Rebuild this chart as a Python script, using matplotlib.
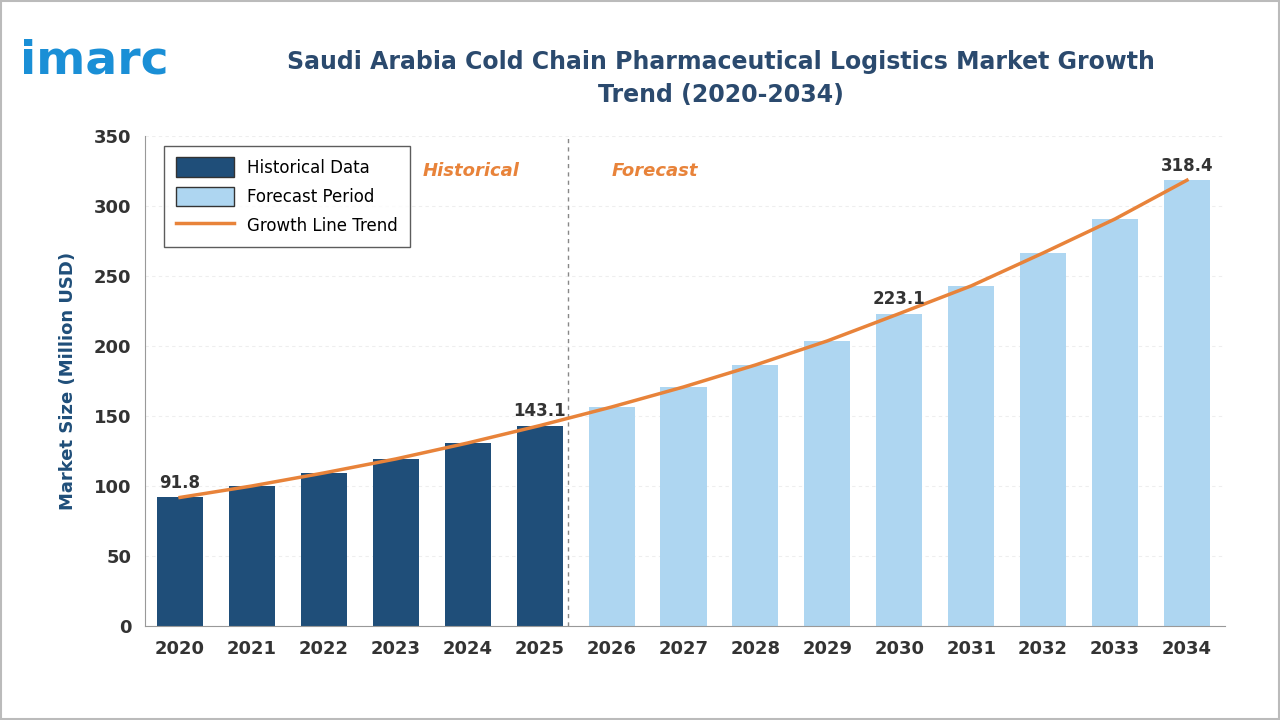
import matplotlib
matplotlib.use("Agg")
import matplotlib.pyplot as plt
from matplotlib.patches import Patch, Rectangle
from matplotlib.lines import Line2D

years = ["2020","2021","2022","2023","2024","2025","2026","2027","2028","2029","2030","2031","2032","2033","2034"]
values = [91.8,100.0,109.3,119.3,130.7,143.1,156.4,170.7,186.4,203.6,223.1,242.9,266.4,290.7,318.4]
n_hist = 6
labeled = {0:"91.8",5:"143.1",10:"223.1",14:"318.4"}

dark = "#1f4e79"; light = "#aed6f1"; orange = "#e8833a"; txt = "#333333"

fig = plt.figure(figsize=(12.8,7.2), dpi=100)
fig.patches.append(Rectangle((0.001,0.001),0.998,0.998,transform=fig.transFigure,fill=False,edgecolor="#bbbbbb",lw=1.5))
ax = fig.add_axes([0.1133,0.1306,0.8438,0.6806])
x = list(range(len(years)))
colors = [dark if i < n_hist else light for i in x]
ax.bar(x, values, width=0.64, color=colors, zorder=2)
ax.plot(x, values, color=orange, lw=2.5, zorder=3)
for i,t in labeled.items():
    ax.text(i, values[i]+4, t, ha="center", va="bottom", fontsize=12, fontweight="bold", color=txt)
ax.axvline(5.4, color="#888888", ls=(0,(3,3)), lw=1)
ax.text(4.05, 325, "Historical", color=orange, fontsize=13, fontstyle="italic", fontweight="bold", ha="center", va="center")
ax.text(6.6, 325, "Forecast", color=orange, fontsize=13, fontstyle="italic", fontweight="bold", ha="center", va="center")
ax.set_xlim(-0.487, 14.53)
ax.set_ylim(0, 350)
ax.set_yticks(range(0,351,50))
ax.set_xticks(x)
ax.set_xticklabels(years)
ax.tick_params(labelsize=13, colors=txt, length=0, pad=10)
for l in ax.get_xticklabels()+ax.get_yticklabels():
    l.set_fontweight("bold")
ax.grid(axis="y", color="#eeeeee", ls=(0,(3,3)), zorder=0)
for s in ["top","right"]:
    ax.spines[s].set_visible(False)
for s in ["left","bottom"]:
    ax.spines[s].set_color("#999999")
ax.set_ylabel("Market Size (Million USD)", fontsize=13, fontweight="bold", color=dark, labelpad=12)
handles = [Patch(facecolor=dark, edgecolor="#333333", label="Historical Data"),
           Patch(facecolor=light, edgecolor="#333333", label="Forecast Period"),
           Line2D([0],[0], color=orange, lw=2.5, label="Growth Line Trend")]
leg = ax.legend(handles=handles, loc="upper left", bbox_to_anchor=(0.01,0.997), fontsize=12,
                frameon=True, fancybox=False, edgecolor="#333333", handlelength=3.5, handleheight=1.4,
                borderpad=0.7, labelspacing=0.6)
fig.text(0.563, 0.891, "Saudi Arabia Cold Chain Pharmaceutical Logistics Market Growth\nTrend (2020-2034)",
         ha="center", va="center", fontsize=17, fontweight="bold", color="#2b4a6e", linespacing=1.5)
fig.text(0.016, 0.915, "imarc", fontsize=34, fontweight="bold", color="#1a8fd6", ha="left", va="center")
fig.savefig("out.png", dpi=100)
